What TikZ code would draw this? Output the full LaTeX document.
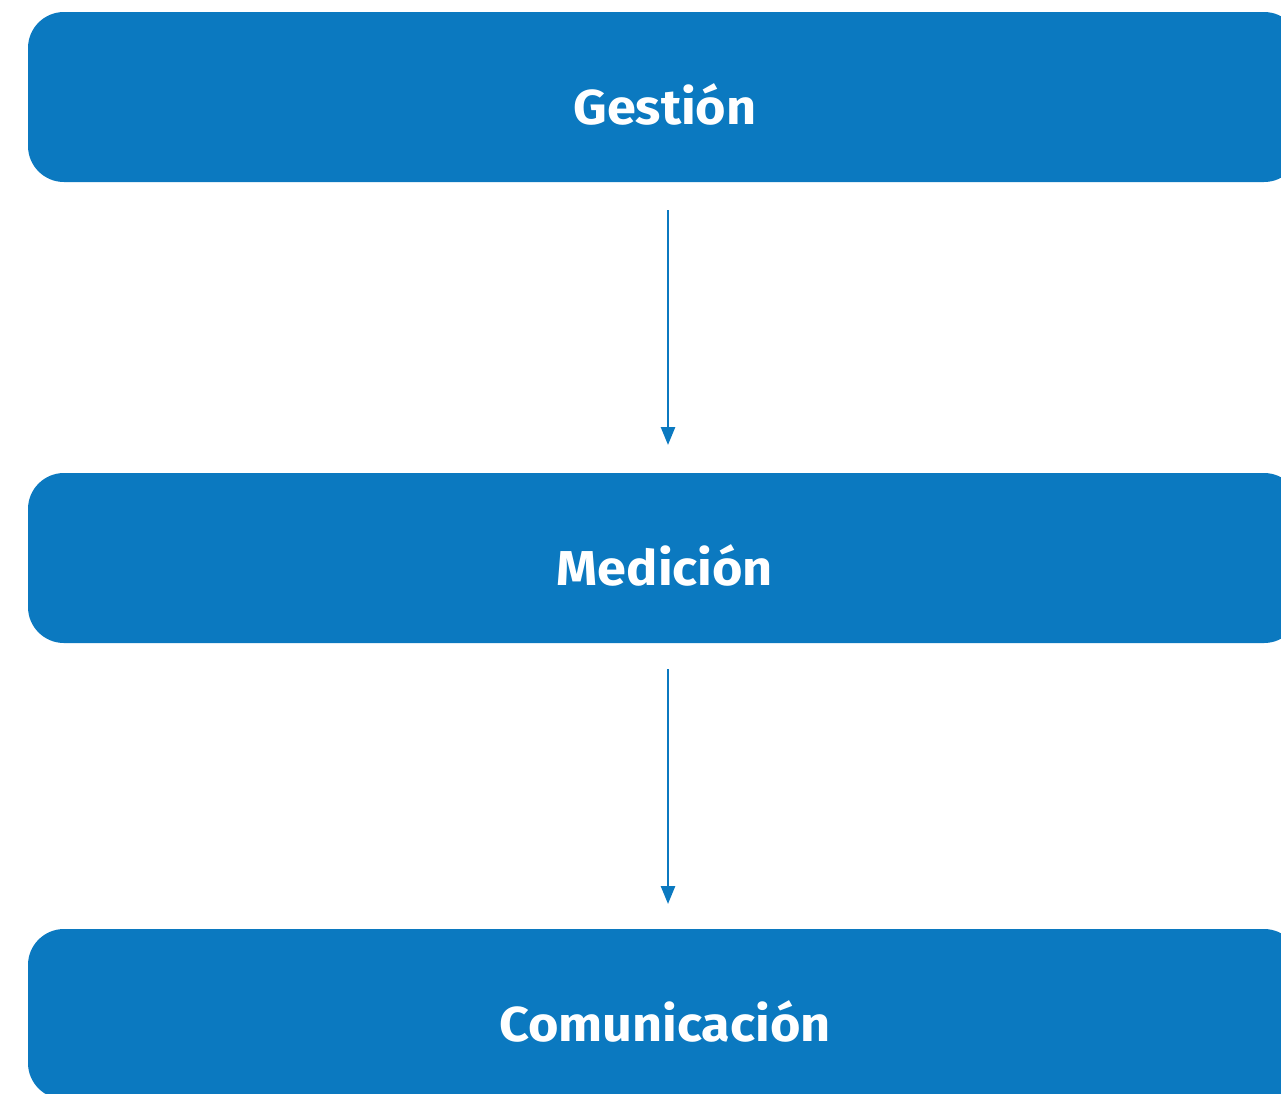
\documentclass[tikz,border=0pt]{standalone}
\usepackage{fontspec}
\setmainfont{Fira Sans}
\newfontfamily\stagefont[FakeStretch=1.065]{Fira Sans}
\usetikzlibrary{arrows.meta}
\definecolor{boxblue}{HTML}{0B79C0}
\tikzset{
  stage/.style={draw=none, fill=boxblue, rounded corners=36pt, minimum width=1272pt, minimum height=170pt, inner sep=0pt, outer sep=0pt},
  stagetext/.style={text=white, font=\stagefont\fontsize{49}{52}\selectfont\bfseries, anchor=base, inner sep=0pt},
  flow/.style={draw=boxblue, line width=2.6pt, -{Triangle[length=18pt,width=14pt]}}
}
\begin{document}
\begin{tikzpicture}[x=1pt,y=1pt]
\useasboundingbox (0,0) rectangle (1281,-1093);
\node[stage] (g) at (664,-97) {};
\node[stage] (m) at (664,-558) {};
\node[stage] (c) at (664,-1014) {};
\node[stagetext] (gt) at (665,-124) {Gestión};
\node[stagetext] (mt) at (665,-585) {Medición};
\node[stagetext] (ct) at (665,-1041) {Comunicación};
\coordinate (a1s) at (668,-210);
\coordinate (a1e) at (668,-445);
\coordinate (a2s) at (668,-669);
\coordinate (a2e) at (668,-904);
\draw[flow] (a1s) -- (a1e);
\draw[flow] (a2s) -- (a2e);
\end{tikzpicture}
\end{document}
